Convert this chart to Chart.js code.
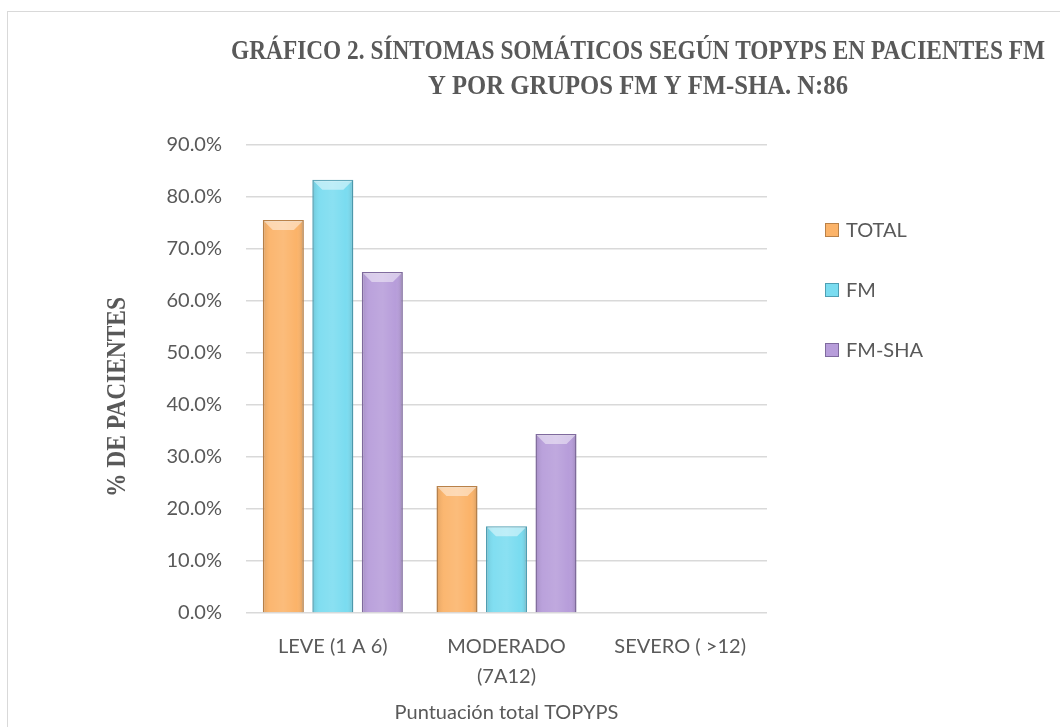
<!DOCTYPE html>
<html>
<head>
<meta charset="utf-8">
<script src="https://cdn.jsdelivr.net/npm/chart.js@4.4.1/dist/chart.umd.min.js"></script>
<style>
  html, body { margin: 0; padding: 0; background: #fff; }
  #wrap { position: relative; width: 1060px; height: 727px; overflow: hidden; }
  #frame { position: absolute; left: 7px; top: 11px; width: 1100px; height: 800px; border: 1.5px solid #d9d9d9; }
  #c { position: absolute; left: 0; top: 0; }
</style>
</head>
<body>
<div id="wrap">
  <div id="frame"></div>
  <canvas id="c" width="1060" height="727"></canvas>
</div>
<script>
// data
const categories = ["LEVE (1 A 6)", ["MODERADO", "(7A12)"], "SEVERO ( >12)"];
const seriesNames = ["TOTAL", "FM", "FM-SHA"];
const total = [75.6, 24.4, 0];
const fm = [83.3, 16.7, 0];
const fmSha = [65.6, 34.4, 0];
const yTicks = [0, 10, 20, 30, 40, 50, 60, 70, 80, 90];
const titleLines = ["GRÁFICO 2. SÍNTOMAS SOMÁTICOS SEGÚN TOPYPS EN PACIENTES FM", "Y POR GRUPOS FM Y FM-SHA. N:86"];
const yTitle = "% DE PACIENTES";

const fills = ["#FBB369", "#7ADCF0", "#B79DDA"];
const borders = ["#B98148", "#4F9FB3", "#7F6A9E"];
const textGrey = "#595959";
const serifBold = "bold 27px 'Liberation Serif', 'Times New Roman', serif";

// chart title and y title, drawn in the narrow serif look of the original
const titlePlugin = {
  id: "titleLines",
  afterDraw(chart) {
    const ctx = chart.ctx;
    ctx.save();
    ctx.font = serifBold;
    ctx.fillStyle = textGrey;
    ctx.textAlign = "center";
    ctx.textBaseline = "middle";
    const widths = [814, 420];
    const ys = [52, 87];
    titleLines.forEach((t, i) => {
      const sx = widths[i] / ctx.measureText(t).width;
      ctx.save();
      ctx.translate(638, ys[i]);
      ctx.scale(sx, 1);
      ctx.fillText(t, 0, 0);
      ctx.restore();
    });
    // y axis title
    const sy = 200 / ctx.measureText(yTitle).width;
    ctx.save();
    ctx.translate(118, 397);
    ctx.rotate(-Math.PI / 2);
    ctx.scale(sy, 1);
    ctx.fillText(yTitle, 0, 0);
    ctx.restore();
    ctx.restore();
  }
};

// soft bevel / shading on each bar
const bevelPlugin = {
  id: "bevel",
  afterDatasetsDraw(chart) {
    const ctx = chart.ctx;
    chart.data.datasets.forEach((ds, di) => {
      const meta = chart.getDatasetMeta(di);
      meta.data.forEach(bar => {
        const p = bar.getProps(["x", "y", "base", "width"], true);
        const h = p.base - p.y;
        if (h < 2) return;
        const l = p.x - p.width / 2, r = p.x + p.width / 2;
        ctx.save();
        const g = ctx.createLinearGradient(l, 0, r, 0);
        g.addColorStop(0, "rgba(0,0,0,0.10)");
        g.addColorStop(0.18, "rgba(255,255,255,0.05)");
        g.addColorStop(0.5, "rgba(255,255,255,0.12)");
        g.addColorStop(0.82, "rgba(255,255,255,0.0)");
        g.addColorStop(1, "rgba(0,0,0,0.16)");
        ctx.fillStyle = g;
        ctx.fillRect(l + 1, p.y + 1, p.width - 2, h - 1);
        const b = Math.min(9, h / 2);
        ctx.beginPath();
        ctx.moveTo(l + 1, p.y + 1);
        ctx.lineTo(r - 1, p.y + 1);
        ctx.lineTo(r - 1 - b, p.y + 1 + b);
        ctx.lineTo(l + 1 + b, p.y + 1 + b);
        ctx.closePath();
        ctx.fillStyle = "rgba(255,255,255,0.45)";
        ctx.fill();
        ctx.restore();
      });
    });
  }
};

// legend at the right, square markers
const legendPlugin = {
  id: "sideLegend",
  afterDraw(chart) {
    const ctx = chart.ctx;
    const area = chart.chartArea;
    ctx.save();
    ctx.font = "20px Lato, sans-serif";
    ctx.textBaseline = "middle";
    ctx.textAlign = "left";
    chart.data.datasets.forEach((ds, i) => {
      const x = area.right + 58;
      const y = area.top + 85 + i * 60;
      ctx.fillStyle = ds.backgroundColor;
      ctx.fillRect(x, y - 7, 14, 14);
      ctx.strokeStyle = ds.borderColor;
      ctx.lineWidth = 1;
      ctx.strokeRect(x + 0.5, y - 6.5, 13, 13);
      ctx.fillStyle = textGrey;
      ctx.fillText(ds.label, x + 21, y + 1);
    });
    ctx.restore();
  }
};

const seriesData = [total, fm, fmSha];

new Chart(document.getElementById("c"), {
  type: "bar",
  data: {
    labels: categories,
    datasets: seriesNames.map((name, i) => ({
      label: name,
      data: seriesData[i],
      backgroundColor: fills[i],
      borderColor: borders[i],
      borderWidth: 1.5,
      categoryPercentage: 0.855,
      barPercentage: 0.83
    }))
  },
  options: {
    responsive: false,
    animation: false,
    layout: { padding: { top: 145, left: 95, right: 293, bottom: 0 } },
    plugins: {
      legend: { display: false },
      title: { display: false },
      tooltip: { enabled: false }
    },
    scales: {
      x: {
        grid: { display: false },
        border: { display: false },
        ticks: {
          color: textGrey,
          font: { family: "Lato", size: 20, lineHeight: 1.5 },
          padding: 11,
          maxRotation: 0,
          autoSkip: false
        },
        title: {
          display: true,
          text: "Puntuación total TOPYPS",
          color: textGrey,
          font: { family: "Lato", size: 20 },
          padding: { top: 0, bottom: 2 }
        },
        afterFit(scale) { scale.height = 114; }
      },
      y: {
        min: 0,
        max: 90,
        afterBuildTicks(scale) { scale.ticks = yTicks.map(v => ({ value: v })); },
        grid: { color: "#d9d9d9", lineWidth: 1.5, drawTicks: false },
        border: { display: false },
        ticks: {
          color: textGrey,
          font: { family: "Lato", size: 20 },
          padding: 24,
          callback: v => v.toFixed(1) + "%"
        },
        afterFit(scale) { scale.width = 151; }
      }
    }
  },
  plugins: [titlePlugin, bevelPlugin, legendPlugin]
});
</script>
</body>
</html>
